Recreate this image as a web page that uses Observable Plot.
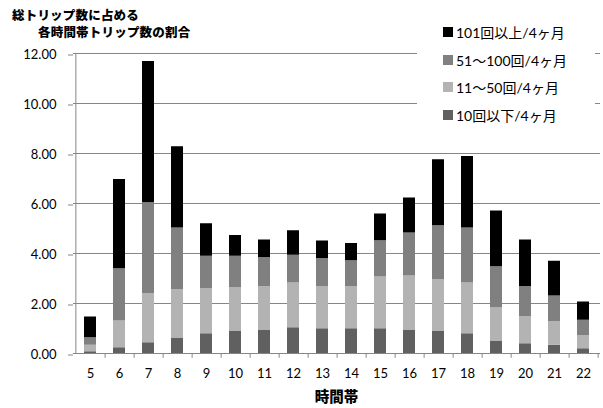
<!DOCTYPE html>
<html><head><meta charset="utf-8">
<script src="https://cdn.jsdelivr.net/npm/d3@7"></script>
<script src="https://cdn.jsdelivr.net/npm/@observablehq/plot@0.6"></script>
<style>
body{margin:0;background:#fff}
#wrap{position:relative;width:603px;height:408px;font-family:Lato,"Noto Sans CJK JP",sans-serif;overflow:hidden}
#chart svg{position:absolute;left:0;top:0}
#title{position:absolute;left:12px;top:6px;font-family:"Noto Sans CJK JP",sans-serif;font-weight:900;font-size:12.5px;line-height:17px;color:#000;letter-spacing:0.2px}
#title .l2{margin-left:26px}
#legend{position:absolute;left:417px;top:18px;width:178px;padding-bottom:6px;background:#fff}
#legend .row{height:27.7px;display:flex;align-items:center;padding-left:26px;font-size:14px;color:#000;white-space:nowrap}
#legend .sw{width:10px;height:10px;margin-right:3px;flex:none}
#xtitle{position:absolute;left:73px;width:527px;top:387px;text-align:center;font-family:"Noto Sans CJK JP",sans-serif;font-weight:900;font-size:14.5px;line-height:18px}
</style>
</head><body>
<div id="wrap">
  <div id="chart"></div>
  <div id="title"><div>総トリップ数に占める</div><div class="l2">各時間帯トリップ数の割合</div></div>
  <div id="legend"></div>
  <div id="xtitle">時間帯</div>
</div>
<script>
const hours = [5,6,7,8,9,10,11,12,13,14,15,16,17,18,19,20,21,22];
const seriesNames = ["10回以下/4ヶ月", "11～50回/4ヶ月", "51～100回/4ヶ月", "101回以上/4ヶ月"];
const seriesColors = ["#606060", "#b3b3b3", "#808080", "#000000"];
const le10    = [0.07,0.23,0.43,0.62,0.79,0.90,0.94,1.03,0.99,0.99,0.99,0.94,0.90,0.79,0.50,0.39,0.33,0.19];
const r11_50  = [0.26,1.07,1.97,1.93,1.81,1.74,1.74,1.79,1.69,1.69,2.07,2.16,2.06,2.03,1.34,1.08,0.94,0.53];
const r51_100 = [0.30,2.09,3.63,2.47,1.29,1.25,1.16,1.11,1.12,1.03,1.45,1.72,2.15,2.20,1.63,1.21,1.03,0.61];
const ge101   = [0.83,3.57,5.65,3.25,1.30,0.83,0.70,0.98,0.70,0.69,1.07,1.40,2.64,2.86,2.23,1.86,1.39,0.73];
const yTicks = [0,2,4,6,8,10,12];

const seriesValues = [le10, r11_50, r51_100, ge101];
const data = [];
seriesNames.forEach((s, si) => hours.forEach((h, i) => data.push({hour: h, series: s, value: seriesValues[si][i]})));

const W = 603, H = 408, mL = 73, mR = 3, mT = 53, mB = 55;
const step = (W - mL - mR) / hours.length;
const axisGray = "#868686";

const plot = Plot.plot({
  width: W, height: H,
  marginLeft: mL, marginRight: mR, marginTop: mT, marginBottom: mB,
  style: {fontFamily: "Lato, 'Noto Sans CJK JP', sans-serif", fontSize: "13px", background: "transparent", overflow: "visible"},
  x: {type: "band", domain: hours, paddingInner: 0.6, paddingOuter: 0.3, label: null},
  y: {domain: [0, 12], label: null},
  color: {domain: seriesNames, range: seriesColors},
  marks: [
    Plot.gridY(yTicks.filter(d => d > 0), {stroke: axisGray, strokeOpacity: 1, strokeWidth: 1}),
    Plot.barY(data, Plot.stackY({order: seriesNames}, {x: "hour", y: "value", fill: "series"})),
    Plot.ruleY([0], {stroke: axisGray, strokeWidth: 1}),
    Plot.ruleX([hours[0]], {y1: 0, y2: 12, stroke: axisGray, dx: -step / 2}),
    Plot.ruleX(hours, {x: d => d, y1: 0, y2: -0.19, stroke: axisGray, dx: step / 2}),
    Plot.axisY(yTicks, {tickFormat: d3.format(".2f"), tickSize: 5, tickPadding: 12, stroke: axisGray, fill: "#000", dy: 1.5, label: null, fontSize: 13}),
    Plot.axisX(hours, {tickSize: 0, tickPadding: 15, fill: "#000", label: null, fontSize: 13})
  ]
});
document.getElementById("chart").appendChild(plot);

const legend = document.getElementById("legend");
for (let i = seriesNames.length - 1; i >= 0; i--) {
  const row = document.createElement("div");
  row.className = "row";
  const sw = document.createElement("span");
  sw.className = "sw";
  sw.style.background = seriesColors[i];
  const tx = document.createElement("span");
  tx.textContent = seriesNames[i];
  row.appendChild(sw); row.appendChild(tx);
  legend.appendChild(row);
}
</script>
</body></html>
